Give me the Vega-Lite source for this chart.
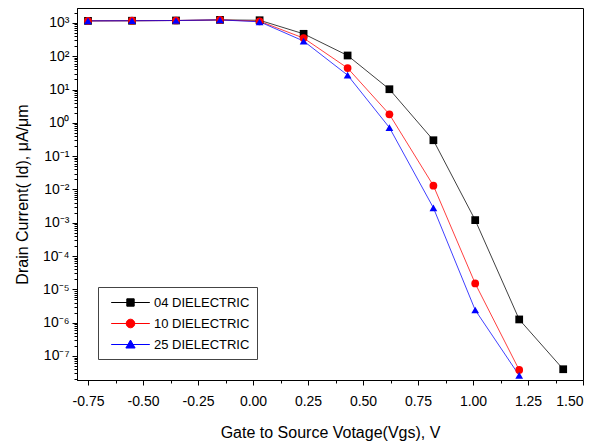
{
  "$schema": "https://vega.github.io/schema/vega-lite/v6.json",
  "autosize": {"type": "none"},
  "width": 506,
  "height": 372,
  "padding": {"left": 77, "top": 8, "right": 12, "bottom": 65},
  "background": "white",
  "config": {
    "font": "Liberation Sans",
    "view": {"stroke": "black", "strokeWidth": 1},
    "axis": {"grid": false, "domainColor": "black", "tickColor": "black", "labelColor": "black", "titleColor": "black", "labelFont": "Liberation Sans", "titleFont": "Liberation Sans", "titleFontWeight": "normal", "labelOverlap": false, "labelBound": false},
    "legend": {"orient": "none", "legendX": 21, "legendY": 279,
      "strokeColor": "#444", "fillColor": "white", "padding": 7,
      "labelFontSize": 13, "labelFont": "Liberation Sans", "labelColor": "black",
      "symbolSize": 256, "symbolStrokeWidth": 1, "rowPadding": 5, "labelOffset": 32, "symbolOpacity": 1}
  },
  "data": {"values": [
    {"series": "04 DIELECTRIC", "vgs": -0.75, "id": 1150},
    {"series": "04 DIELECTRIC", "vgs": -0.55, "id": 1160},
    {"series": "04 DIELECTRIC", "vgs": -0.35, "id": 1180},
    {"series": "04 DIELECTRIC", "vgs": -0.15, "id": 1230},
    {"series": "04 DIELECTRIC", "vgs": 0.03, "id": 1200},
    {"series": "04 DIELECTRIC", "vgs": 0.23, "id": 470},
    {"series": "04 DIELECTRIC", "vgs": 0.43, "id": 105},
    {"series": "04 DIELECTRIC", "vgs": 0.62, "id": 10.2},
    {"series": "04 DIELECTRIC", "vgs": 0.82, "id": 0.30},
    {"series": "04 DIELECTRIC", "vgs": 1.01, "id": 0.0012},
    {"series": "04 DIELECTRIC", "vgs": 1.21, "id": 1.25e-6},
    {"series": "04 DIELECTRIC", "vgs": 1.41, "id": 4e-8},
    {"series": "10 DIELECTRIC", "vgs": -0.75, "id": 1150},
    {"series": "10 DIELECTRIC", "vgs": -0.55, "id": 1160},
    {"series": "10 DIELECTRIC", "vgs": -0.35, "id": 1180},
    {"series": "10 DIELECTRIC", "vgs": -0.15, "id": 1230},
    {"series": "10 DIELECTRIC", "vgs": 0.03, "id": 1120},
    {"series": "10 DIELECTRIC", "vgs": 0.23, "id": 350},
    {"series": "10 DIELECTRIC", "vgs": 0.43, "id": 44},
    {"series": "10 DIELECTRIC", "vgs": 0.62, "id": 1.8},
    {"series": "10 DIELECTRIC", "vgs": 0.82, "id": 0.013},
    {"series": "10 DIELECTRIC", "vgs": 1.01, "id": 1.5e-5},
    {"series": "10 DIELECTRIC", "vgs": 1.21, "id": 3.8e-8},
    {"series": "25 DIELECTRIC", "vgs": -0.75, "id": 1150},
    {"series": "25 DIELECTRIC", "vgs": -0.55, "id": 1160},
    {"series": "25 DIELECTRIC", "vgs": -0.35, "id": 1180},
    {"series": "25 DIELECTRIC", "vgs": -0.15, "id": 1230},
    {"series": "25 DIELECTRIC", "vgs": 0.03, "id": 1080},
    {"series": "25 DIELECTRIC", "vgs": 0.23, "id": 285},
    {"series": "25 DIELECTRIC", "vgs": 0.43, "id": 27},
    {"series": "25 DIELECTRIC", "vgs": 0.62, "id": 0.72},
    {"series": "25 DIELECTRIC", "vgs": 0.82, "id": 0.0028},
    {"series": "25 DIELECTRIC", "vgs": 1.01, "id": 2.4e-6},
    {"series": "25 DIELECTRIC", "vgs": 1.21, "id": 2.6e-8}
  ]},
  "encoding": {
    "x": {"field": "vgs", "type": "quantitative",
      "scale": {"domain": [-0.8, 1.5], "nice": false, "zero": false},
      "axis": {
        "title": "Gate to Source Votage(Vgs), V",
        "titleFontSize": 16, "titlePadding": 16,
        "labelFontSize": 14, "labelPadding": 9,
        "values": [-0.75, -0.625, -0.5, -0.375, -0.25, -0.125, 0, 0.125, 0.25, 0.375, 0.5, 0.625, 0.75, 0.875, 1, 1.125, 1.25, 1.375, 1.5],
        "labelExpr": "abs(datum.value*4 - round(datum.value*4)) < 1e-6 ? replace(format(datum.value, '.2f'), '\u2212', '-') : ''",
        "tickSize": {"condition": {"test": "abs(datum.value*4 - round(datum.value*4)) < 1e-6", "value": 5}, "value": 3}
      }
    },
    "y": {"field": "id", "type": "quantitative",
      "scale": {"type": "log", "domain": [1.9e-8, 2800], "nice": false},
      "axis": {
        "title": "Drain Current( Id), \u03bcA/\u03bcm",
        "titleFontSize": 16, "titlePadding": 12,
        "labelFontSize": 14, "labelPadding": 3,
        "values": [2e-8, 3e-8, 4e-8, 5e-8, 6e-8, 7e-8, 8e-8, 9e-8,
          1e-7, 2e-7, 3e-7, 4e-7, 5e-7, 6e-7, 7e-7, 8e-7, 9e-7,
          1e-6, 2e-6, 3e-6, 4e-6, 5e-6, 6e-6, 7e-6, 8e-6, 9e-6,
          1e-5, 2e-5, 3e-5, 4e-5, 5e-5, 6e-5, 7e-5, 8e-5, 9e-5,
          1e-4, 2e-4, 3e-4, 4e-4, 5e-4, 6e-4, 7e-4, 8e-4, 9e-4,
          1e-3, 2e-3, 3e-3, 4e-3, 5e-3, 6e-3, 7e-3, 8e-3, 9e-3,
          1e-2, 2e-2, 3e-2, 4e-2, 5e-2, 6e-2, 7e-2, 8e-2, 9e-2,
          0.1, 0.2, 0.3, 0.4, 0.5, 0.6, 0.7, 0.8, 0.9,
          1, 2, 3, 4, 5, 6, 7, 8, 9,
          10, 20, 30, 40, 50, 60, 70, 80, 90,
          100, 200, 300, 400, 500, 600, 700, 800, 900,
          1000, 2000],
        "labelExpr": "abs(log(datum.value)/LN10 - round(log(datum.value)/LN10)) < 1e-6 ? '10' + ['\u207b\u2078','\u207b\u2077','\u207b\u2076','\u207b\u2075','\u207b\u2074','\u207b\u00b3','\u207b\u00b2','\u207b\u00b9','\u2070','\u00b9','\u00b2','\u00b3'][round(log(datum.value)/LN10)+8] : ''",
        "tickSize": {"condition": {"test": "abs(log(datum.value)/LN10 - round(log(datum.value)/LN10)) < 1e-6", "value": 5}, "value": 3}
      }
    },
    "color": {"field": "series", "type": "nominal", "title": null,
      "scale": {"domain": ["04 DIELECTRIC", "10 DIELECTRIC", "25 DIELECTRIC"], "range": ["black", "red", "blue"]}
    }
  },
  "layer": [
    {
      "mark": {"type": "line", "strokeWidth": 1, "opacity": 0.75}
    },
    {
      "transform": [{"filter": "datum.series == '04 DIELECTRIC'"}],
      "mark": {"type": "point", "filled": true, "size": 60, "opacity": 1, "shape": "square", "strokeWidth": 0.5}
    },
    {
      "transform": [{"filter": "datum.series == '10 DIELECTRIC'"}],
      "mark": {"type": "point", "filled": true, "size": 60, "opacity": 1, "shape": "circle", "strokeWidth": 0.5}
    },
    {
      "transform": [{"filter": "datum.series == '25 DIELECTRIC'"}],
      "mark": {"type": "point", "filled": true, "size": 60, "opacity": 1, "shape": "triangle-up", "strokeWidth": 0.5}
    },
    {
      "transform": [{"filter": "datum.vgs > 5"}],
      "mark": {"type": "point", "filled": true, "opacity": 1},
      "encoding": {
        "shape": {"field": "series", "type": "nominal", "title": null,
          "scale": {"domain": ["04 DIELECTRIC", "10 DIELECTRIC", "25 DIELECTRIC"],
            "range": ["M-0.29,0H4.54M1.665,-0.46H2.585V0.46H1.665Z", "M-0.29,0H4.54M1.585,0A0.54,0.54 0 1,0 2.665,0A0.54,0.54 0 1,0 1.585,0Z", "M2.125,-0.56L2.705,0.44L1.545,0.44ZM-0.29,0H4.54"]}}
      }
    }
  ]
}
